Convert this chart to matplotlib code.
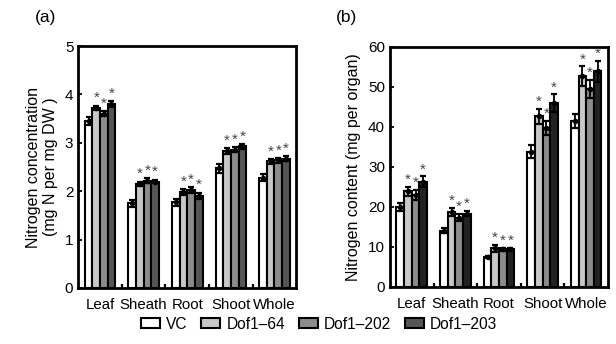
import numpy as np
import matplotlib.pyplot as plt
from matplotlib.patches import Patch

plt.rcParams['font.family'] = ['Liberation Sans', 'DejaVu Sans']

organs = ["Leaf", "Sheath", "Root", "Shoot", "Whole"]
lines = ["VC", "Dof1\u201364", "Dof1\u2013202", "Dof1\u2013203"]

# (a) nitrogen concentration, mg N per mg DW
conc = [
    [3.45, 1.75, 1.77, 2.47, 2.28],
    [3.72, 2.15, 1.98, 2.83, 2.62],
    [3.60, 2.22, 2.03, 2.86, 2.64],
    [3.80, 2.20, 1.90, 2.93, 2.67],
]
conc_err = [
    [0.08, 0.07, 0.07, 0.09, 0.07],
    [0.05, 0.05, 0.06, 0.06, 0.05],
    [0.05, 0.05, 0.06, 0.05, 0.05],
    [0.06, 0.04, 0.07, 0.05, 0.05],
]
conc_sig = [
    [False] * 5,
    [True] * 5,
    [True] * 5,
    [True] * 5,
]

# (b) nitrogen content, mg per organ
cont = [
    [20.0, 14.0, 7.4, 33.8, 41.4],
    [23.9, 18.8, 9.6, 42.6, 52.6],
    [23.0, 17.3, 9.4, 39.7, 49.5],
    [26.3, 18.3, 9.4, 45.9, 53.9],
]
cont_err = [
    [1.0, 0.6, 0.3, 1.6, 1.8],
    [1.1, 1.0, 0.9, 1.9, 2.5],
    [1.2, 0.9, 0.4, 1.8, 2.3],
    [1.3, 0.7, 0.3, 2.2, 2.6],
]
cont_sig = conc_sig

colors_a = ["white", "#c8c8c8", "#8c8c8c", "#555555"]
colors_b = ["white", "#c8c8c8", "#8c8c8c", "#222222"]


def draw_panel(ax, vals, errs, sig, colors, ymax, ystep, ylabel, star_off):
    x = np.arange(len(organs))
    w = 0.175
    for k in range(len(lines)):
        pos = x + (k - 1.5) * w
        ax.bar(pos, vals[k], w, color=colors[k], edgecolor="black", linewidth=1.5)
        ax.errorbar(pos, vals[k], yerr=errs[k], fmt="o", ms=3, color="black",
                    ecolor="black", elinewidth=1.3, capsize=2, capthick=1.6)
        for j in range(len(organs)):
            if sig[k][j]:
                ax.text(pos[j], vals[k][j] + errs[k][j] + star_off, "*",
                        ha="center", va="bottom", fontsize=11, color="#444444",
                        clip_on=False)
    ax.set_xlim(-0.5, len(organs) - 0.5)
    ax.set_ylim(0, ymax)
    ax.set_yticks(np.arange(0, ymax + ystep / 2, ystep))
    ax.set_xticks(x)
    ax.set_xticklabels(organs)
    ax.set_xticks(x[:-1] + 0.5, minor=True)
    ax.tick_params(axis="x", which="major", length=0, labelsize=10.8, pad=7)
    ax.tick_params(axis="x", which="minor", direction="in", length=3, width=1.6)
    ax.tick_params(axis="y", direction="in", length=3, width=1.3, labelsize=11)
    ax.set_ylabel(ylabel, fontsize=11.5, labelpad=5)
    for s in ax.spines.values():
        s.set_linewidth(2)


fig = plt.figure(figsize=(6.16, 3.44), dpi=100)
ax1 = fig.add_axes([0.127, 0.163, 0.354, 0.703])
ax2 = fig.add_axes([0.633, 0.166, 0.354, 0.698])

draw_panel(ax1, conc, conc_err, conc_sig, colors_a, 5, 1,
           "Nitrogen concentration\n(mg N per mg DW )", 0.01)
draw_panel(ax2, cont, cont_err, cont_sig, colors_b, 60, 10,
           "Nitrogen content (mg per organ)", 0.0)

fig.text(0.057, 0.95, "(a)", fontsize=12.5, ha="left", va="center")
fig.text(0.545, 0.95, "(b)", fontsize=12.5, ha="left", va="center")

handles = [Patch(facecolor=c, edgecolor="black", linewidth=1.5) for c in colors_a]
fig.legend(handles, lines, loc="center", bbox_to_anchor=(0.518, 0.058), ncol=4,
           frameon=False, fontsize=11.2, handlelength=1.2, handleheight=0.6,
           handletextpad=0.4, columnspacing=0.9)

fig.savefig("out.png", dpi=100)
